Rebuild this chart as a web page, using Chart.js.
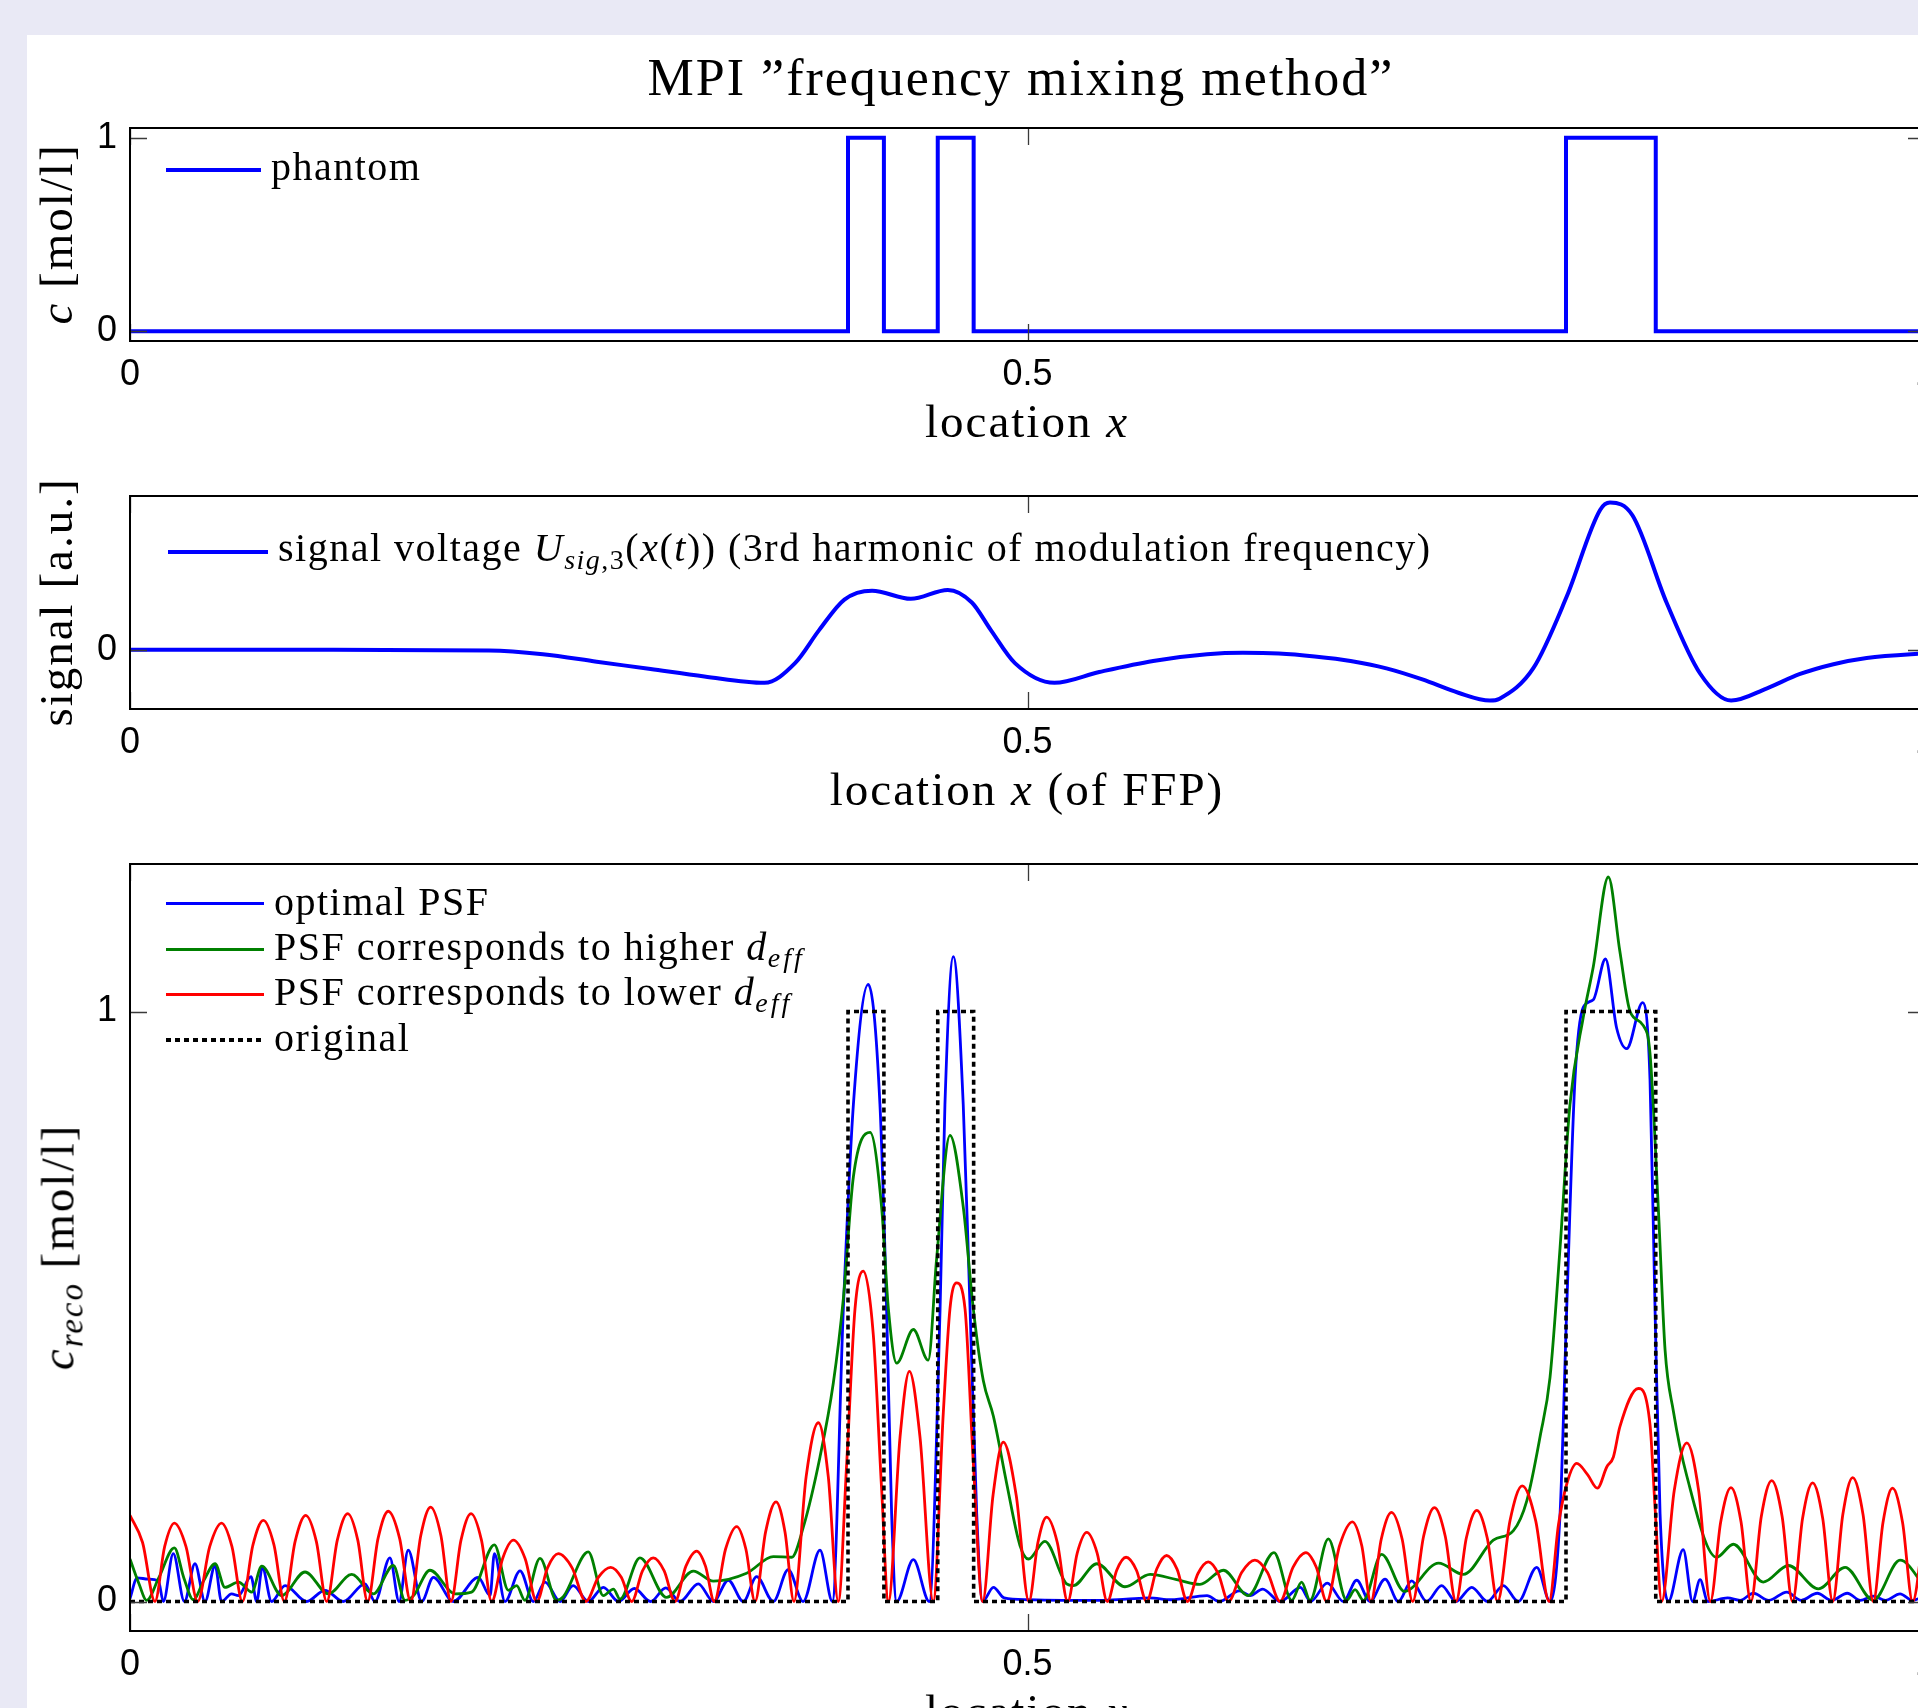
<!DOCTYPE html>
<html>
<head>
<meta charset="utf-8">
<script src="https://cdn.jsdelivr.net/npm/chart.js@4.4.1/dist/chart.umd.min.js"></script>
<style>
html, body { margin: 0; padding: 0; }
body { width: 1918px; height: 1708px; overflow: hidden; background: #e9e9f5; position: relative; }
#sheet { position: absolute; left: 27px; top: 35px; width: 1960px; height: 1700px; background: #fff; }
canvas { position: absolute; left: 27px; }
.t { position: absolute; white-space: nowrap; font-family: "Liberation Serif", "Times New Roman", serif; line-height: 1; color: #000; }
.c { transform: translateX(-50%); }
.rot { transform: translate(-50%, -50%) rotate(-90deg); }
.s { font-size: 0.7em; position: relative; top: 0.28em; }
.sw { position: absolute; }
.dot { background: repeating-linear-gradient(90deg, #000 0 5px, transparent 5px 9px); }
</style>
</head>
<body>
<div id="sheet"></div>

<canvas id="phantomChart" width="1973" height="300" style="top:100px"></canvas>
<canvas id="signalChart" width="1973" height="320" style="top:460px"></canvas>
<canvas id="recoChart" width="1973" height="878" style="top:830px"></canvas>

<div class="t c" style="left:1021px; top:52px; font-size:52px; letter-spacing:2px">MPI ”frequency mixing method”</div>

<!-- panel 1 -->
<div class="sw" style="left:166px; top:168px; width:95px; height:4px; background:#0000ff"></div>
<div class="t" style="left:271px; top:147px; font-size:40px; letter-spacing:1.5px">phantom</div>
<div class="t c" style="left:1027px; top:398px; font-size:47px; letter-spacing:2px">location <i>x</i></div>
<div class="t rot" style="left:56px; top:234px; font-size:47px; letter-spacing:2px"><i>c</i> [mol/l]</div>

<!-- panel 2 -->
<div class="sw" style="left:168px; top:550px; width:100px; height:4px; background:#0000ff"></div>
<div class="t" style="left:278px; top:528px; font-size:40px; letter-spacing:1.5px">signal voltage <i>U</i><span class="s"><i>sig</i>,3</span>(<i>x</i>(<i>t</i>)) (3rd harmonic of modulation frequency)</div>
<div class="t c" style="left:1027px; top:766px; font-size:47px; letter-spacing:2px">location <i>x</i> (of FFP)</div>
<div class="t rot" style="left:56px; top:602px; font-size:47px; letter-spacing:2px">signal [a.u.]</div>

<!-- panel 3 -->
<div class="sw" style="left:166px; top:901.5px; width:98px; height:3px; background:#0000ff"></div>
<div class="sw" style="left:166px; top:947.5px; width:98px; height:3px; background:#008000"></div>
<div class="sw" style="left:166px; top:992.5px; width:98px; height:3px; background:#ff0000"></div>
<div class="sw dot" style="left:166px; top:1038px; width:98px; height:3.5px"></div>
<div class="t" style="left:274px; top:881.5px; font-size:40px; letter-spacing:1.5px">optimal PSF</div>
<div class="t" style="left:274px; top:926.5px; font-size:40px; letter-spacing:1.5px">PSF corresponds to higher <i>d</i><span class="s" style="letter-spacing:3px"><i>eff</i></span></div>
<div class="t" style="left:274px; top:971.5px; font-size:40px; letter-spacing:1.5px">PSF corresponds to lower <i>d</i><span class="s" style="letter-spacing:3px"><i>eff</i></span></div>
<div class="t" style="left:274px; top:1017.5px; font-size:40px; letter-spacing:1.5px">original</div>
<div class="t c" style="left:1027px; top:1688px; font-size:47px; letter-spacing:2px">location <i>x</i></div>
<div class="t rot" style="left:58px; top:1247px; font-size:47px; letter-spacing:2px"><i>c</i><span class="s"><i>reco</i></span> [mol/l]</div>

<script>
// tick values
const xTicks = [0, 0.5, 1];
const phantomYTicks = [0, 1];
const signalYTicks = [0];
const recoYTicks = [0, 1];

// phantom concentration (stepped)
const phantom = [[0, 0], [0.4, 1], [0.42, 0], [0.45, 1], [0.47, 0], [0.8, 1], [0.85, 0], [1, 0]];

// 3rd harmonic signal voltage
const signal = [[0, 0], [0.1, 0], [0.2, -0.005], [0.23, -0.03], [0.26, -0.08], [0.29, -0.13], [0.32, -0.18],
  [0.3535, -0.223], [0.3705, -0.09], [0.384, 0.135], [0.398, 0.34], [0.4134, 0.4], [0.435, 0.345],
  [0.4556, 0.405], [0.469, 0.32], [0.4795, 0.135], [0.493, -0.09], [0.515, -0.223], [0.54, -0.15],
  [0.57, -0.075], [0.6, -0.03], [0.62, -0.02], [0.64, -0.025], [0.66, -0.045], [0.68, -0.075], [0.7, -0.125],
  [0.72, -0.2], [0.74, -0.29], [0.7576, -0.343], [0.763, -0.33], [0.7818, -0.124], [0.8004, 0.36],
  [0.819, 0.946], [0.8245, 0.996], [0.837, 0.91], [0.856, 0.32], [0.8747, -0.16], [0.892, -0.343],
  [0.912, -0.26], [0.93, -0.165], [0.949, -0.097], [0.9675, -0.055], [0.996, -0.027], [1, -0.025]];

// reconstruction, optimal PSF
const optimalPsf = [[0, 0.005], [0.004, 0.04], [0.01, 0.038], [0.0158, 0.035], [0.0186, 0], [0.0241, 0.081],
  [0.0303, 0], [0.0362, 0.064], [0.0418, 0], [0.0474, 0.061], [0.051, 0], [0.0566, 0.013], [0.0604, 0.01],
  [0.0674, 0.042], [0.0706, 0], [0.0737, 0.058], [0.0789, 0], [0.0864, 0.027], [0.0984, 0], [0.1086, 0.019],
  [0.1188, 0], [0.1309, 0.03], [0.1365, 0], [0.1448, 0.074], [0.1499, 0], [0.155, 0.087], [0.1625, 0],
  [0.169, 0.041], [0.1801, 0], [0.194, 0.041], [0.2006, 0.01], [0.203, 0.081], [0.2089, 0], [0.2173, 0.052],
  [0.2247, 0], [0.2312, 0.033], [0.2396, 0], [0.2469, 0.027], [0.2553, 0], [0.2637, 0.024], [0.2721, 0],
  [0.281, 0.022], [0.29, 0], [0.2985, 0.023], [0.3064, 0], [0.3166, 0.03], [0.325, 0], [0.3333, 0.036],
  [0.3417, 0], [0.3491, 0.042], [0.3584, 0], [0.3667, 0.054], [0.375, 0], [0.3844, 0.087], [0.3913, 0],
  [0.3974, 0.496], [0.403, 0.842], [0.4113, 1.046], [0.4178, 0.842], [0.4215, 0.496], [0.4243, 0.149],
  [0.4271, 0], [0.4364, 0.071], [0.4453, 0], [0.4513, 0.496], [0.454, 0.842], [0.4587, 1.093], [0.4642, 0.842],
  [0.468, 0.496], [0.4717, 0.149], [0.475, 0], [0.481, 0.024], [0.487, 0.006], [0.5, 0.003], [0.52, 0.002],
  [0.54, 0.002], [0.555, 0.004], [0.568, 0.006], [0.58, 0.003], [0.6, 0.01], [0.607, 0], [0.618, 0.018],
  [0.624, 0.01], [0.631, 0.021], [0.6407, 0], [0.652, 0.024], [0.6577, 0], [0.667, 0.031], [0.676, 0],
  [0.6834, 0.036], [0.6908, 0], [0.6992, 0.038], [0.7066, 0], [0.714, 0.035], [0.7224, 0], [0.7307, 0.027],
  [0.7387, 0], [0.7475, 0.024], [0.7562, 0], [0.7651, 0.027], [0.7734, 0], [0.7837, 0.058], [0.7911, 0],
  [0.7967, 0.149], [0.8004, 0.496], [0.805, 0.885], [0.8096, 1.007], [0.8152, 1.02], [0.822, 1.089],
  [0.8282, 0.972], [0.8338, 0.937], [0.8427, 1.015], [0.8468, 0.885], [0.8496, 0.496], [0.8524, 0.149],
  [0.857, 0], [0.8653, 0.088], [0.8705, 0], [0.8747, 0.037], [0.879, 0], [0.89, 0.006], [0.897, 0.002],
  [0.9044, 0.014], [0.913, 0.002], [0.923, 0.016], [0.931, 0.002], [0.94, 0.014], [0.948, 0.002],
  [0.9567, 0.014], [0.964, 0.002], [0.9712, 0.009], [0.978, 0.002], [0.9861, 0.013], [0.993, 0.002], [1, 0.01]];

// reconstruction, PSF of higher d_eff
const higherPsf = [[0, 0.072], [0.005, 0.03], [0.0093, 0.002], [0.016, 0.04], [0.0247, 0.091], [0.03, 0.04],
  [0.0353, 0.003], [0.041, 0.035], [0.0474, 0.064], [0.0529, 0.024], [0.0604, 0.033], [0.0678, 0.016],
  [0.0734, 0.06], [0.0845, 0.01], [0.0975, 0.05], [0.1105, 0.013], [0.1235, 0.046], [0.1356, 0.013],
  [0.1467, 0.061], [0.1532, 0.002], [0.158, 0.01], [0.1671, 0.053], [0.1811, 0.013], [0.1903, 0.016],
  [0.203, 0.096], [0.2108, 0.019], [0.2154, 0.027], [0.22, 0.002], [0.2284, 0.073], [0.2377, 0.002],
  [0.2414, 0.008], [0.2553, 0.084], [0.2637, 0.01], [0.2693, 0.021], [0.273, 0.004], [0.2841, 0.074],
  [0.2989, 0.007], [0.3138, 0.0515], [0.325, 0.0345], [0.3435, 0.048], [0.3584, 0.076], [0.3686, 0.075],
  [0.3751, 0.126], [0.3844, 0.245], [0.3918, 0.37], [0.3974, 0.513], [0.403, 0.72], [0.4123, 0.795],
  [0.4187, 0.669], [0.4225, 0.496], [0.4271, 0.404], [0.4364, 0.461], [0.4447, 0.409], [0.4494, 0.582],
  [0.4568, 0.79], [0.4642, 0.669], [0.4698, 0.496], [0.4754, 0.374], [0.481, 0.314], [0.4884, 0.2],
  [0.4958, 0.095], [0.5005, 0.072], [0.5097, 0.102], [0.5218, 0.03], [0.5255, 0.027], [0.5386, 0.064],
  [0.5543, 0.025], [0.5683, 0.046], [0.5831, 0.037], [0.5961, 0.029], [0.6091, 0.053], [0.623, 0.01],
  [0.6373, 0.083], [0.6472, 0.002], [0.6527, 0.033], [0.6574, 0.002], [0.6676, 0.106], [0.6778, 0.002],
  [0.6825, 0.02], [0.6871, 0.002], [0.6973, 0.08], [0.71, 0.017], [0.729, 0.065], [0.7428, 0.046],
  [0.7595, 0.104], [0.7707, 0.12], [0.7782, 0.171], [0.7856, 0.28], [0.7911, 0.38], [0.7967, 0.6],
  [0.8022, 0.842], [0.8096, 0.99], [0.8152, 1.076], [0.8236, 1.228], [0.83, 1.102], [0.8357, 1.0],
  [0.8431, 0.976], [0.8468, 0.929], [0.8514, 0.669], [0.8552, 0.426], [0.8598, 0.323], [0.8672, 0.214],
  [0.8839, 0.075], [0.8932, 0.097], [0.9099, 0.033], [0.9239, 0.061], [0.9406, 0.0215], [0.9555, 0.058],
  [0.9712, 0.002], [0.9861, 0.07], [1, 0.025]];

// reconstruction, PSF of lower d_eff
const lowerPsf = [[0, 0.146], [0.007, 0.1], [0.0139, 0],
  [0.0193, 0.093], [0.0247, 0.133], [0.0312, 0.093], [0.0377, 0],
  [0.0444, 0.093], [0.051, 0.133], [0.0568, 0.093], [0.0626, 0],
  [0.0685, 0.096], [0.0743, 0.1375], [0.0802, 0.096], [0.086, 0],
  [0.092, 0.102], [0.0979, 0.146], [0.1038, 0.102], [0.1096, 0],
  [0.1155, 0.104], [0.1213, 0.149], [0.1269, 0.104], [0.1324, 0],
  [0.1382, 0.107], [0.1439, 0.153], [0.1502, 0.107], [0.1564, 0],
  [0.162, 0.112], [0.1675, 0.16], [0.1732, 0.112], [0.1788, 0],
  [0.1844, 0.104], [0.19, 0.149], [0.1958, 0.104], [0.2015, 0],
  [0.2076, 0.073], [0.2136, 0.104], [0.2201, 0.073], [0.2266, 0],
  [0.2326, 0.057], [0.2386, 0.081], [0.2463, 0.057], [0.254, 0],
  [0.2609, 0.041], [0.2678, 0.058], [0.2737, 0.041], [0.2795, 0],
  [0.2855, 0.052], [0.2915, 0.074], [0.2976, 0.052], [0.3036, 0],
  [0.3097, 0.06], [0.3157, 0.0855], [0.3206, 0.06], [0.3255, 0],
  [0.3318, 0.089], [0.338, 0.127], [0.3431, 0.089], [0.3482, 0],
  [0.3541, 0.118], [0.3599, 0.169], [0.3649, 0.118], [0.3699, 0],
  [0.3767, 0.212], [0.3835, 0.303], [0.389, 0.212], [0.3946, 0],
  [0.3993, 0.236], [0.4039, 0.496], [0.4085, 0.56], [0.4141, 0.452], [0.4187, 0.192], [0.4225, 0],
  [0.429, 0.279], [0.4342, 0.39], [0.4401, 0.279], [0.4475, 0],
  [0.4531, 0.32], [0.4568, 0.496], [0.4605, 0.54], [0.4652, 0.496], [0.4698, 0.236], [0.475, 0],
  [0.4808, 0.18], [0.4865, 0.27], [0.4937, 0.18], [0.5008, 0],
  [0.5058, 0.1], [0.5107, 0.143], [0.5166, 0.1], [0.5224, 0],
  [0.5277, 0.082], [0.533, 0.117], [0.5388, 0.082], [0.5445, 0],
  [0.5497, 0.053], [0.5549, 0.075], [0.5607, 0.053], [0.5664, 0],
  [0.572, 0.055], [0.5775, 0.078], [0.5833, 0.055], [0.5891, 0],
  [0.5949, 0.047], [0.6007, 0.067], [0.6063, 0.047], [0.6119, 0],
  [0.6193, 0.049], [0.6267, 0.07], [0.6337, 0.049], [0.6407, 0],
  [0.6479, 0.058], [0.6551, 0.083], [0.6609, 0.058], [0.6667, 0],
  [0.6739, 0.095], [0.681, 0.135], [0.6862, 0.095], [0.6913, 0],
  [0.6971, 0.106], [0.7028, 0.151], [0.7087, 0.106], [0.7146, 0],
  [0.7207, 0.111], [0.7267, 0.159], [0.7327, 0.111], [0.7387, 0],
  [0.7445, 0.108], [0.7503, 0.1545], [0.7561, 0.108], [0.7619, 0],
  [0.7688, 0.137], [0.7756, 0.196], [0.7831, 0.137], [0.7906, 0],
  [0.7958, 0.13], [0.8005, 0.2], [0.806, 0.234], [0.812, 0.215], [0.8175, 0.192], [0.8227, 0.228],
  [0.8264, 0.245], [0.83, 0.296], [0.8403, 0.361], [0.8468, 0.3], [0.8496, 0.16], [0.8533, 0],
  [0.8603, 0.188], [0.8673, 0.269], [0.8739, 0.188], [0.8804, 0],
  [0.8862, 0.135], [0.8919, 0.193], [0.8975, 0.135], [0.903, 0],
  [0.9088, 0.144], [0.9146, 0.205], [0.9204, 0.144], [0.9262, 0],
  [0.9318, 0.141], [0.9374, 0.201], [0.943, 0.141], [0.9486, 0],
  [0.9542, 0.147], [0.9597, 0.21], [0.9655, 0.147], [0.9712, 0],
  [0.9766, 0.134], [0.9819, 0.192], [0.9875, 0.134], [0.9931, 0],
  [1, 0.14]];

const toPoints = pairs => pairs.map(p => ({ x: p[0], y: p[1] }));

const tickFont = { family: '"Liberation Sans", Arial, sans-serif', size: 36 };

// box around the axes plus inward tick marks on all four sides
const frameTicks = {
  id: 'frameTicks',
  afterDatasetsDraw(chart) {
    const ctx = chart.ctx;
    const a = chart.chartArea;
    const xs = chart.scales.x, ys = chart.scales.y;
    ctx.save();
    ctx.strokeStyle = '#3a3a3a';
    ctx.lineWidth = 1.3;
    ctx.beginPath();
    xs.ticks.forEach(t => {
      const px = Math.round(xs.getPixelForValue(t.value)) + 0.5;
      ctx.moveTo(px, a.bottom); ctx.lineTo(px, a.bottom - 17);
      ctx.moveTo(px, a.top); ctx.lineTo(px, a.top + 17);
    });
    ys.ticks.forEach(t => {
      const py = Math.round(ys.getPixelForValue(t.value)) + 0.5;
      ctx.moveTo(a.left, py); ctx.lineTo(a.left + 17, py);
      ctx.moveTo(a.right, py); ctx.lineTo(a.right - 17, py);
    });
    ctx.stroke();
    ctx.strokeStyle = '#000';
    ctx.lineWidth = 2;
    ctx.strokeRect(a.left, a.top, a.right - a.left, a.bottom - a.top);
    ctx.restore();
  }
};

function makePanel(id, datasets, yMin, yMax, yTicks, padding) {
  return new Chart(document.getElementById(id), {
    type: 'line',
    data: { datasets: datasets },
    options: {
      responsive: false,
      animation: false,
      events: [],
      layout: { padding: padding },
      elements: { point: { radius: 0 } },
      plugins: {
        legend: { display: false },
        tooltip: { enabled: false },
        title: { display: false }
      },
      scales: {
        x: {
          type: 'linear', min: 0, max: 1,
          grid: { display: false, drawTicks: false },
          border: { display: false },
          afterBuildTicks: s => { s.ticks = xTicks.map(v => ({ value: v })); },
          afterFit: s => { s.height = 50; s.paddingLeft = 0; s.paddingRight = 0; },
          ticks: { autoSkip: false, maxRotation: 0, padding: 12, color: '#000', font: tickFont,
                   callback: v => String(v) }
        },
        y: {
          type: 'linear', min: yMin, max: yMax,
          grid: { display: false, drawTicks: false },
          border: { display: false },
          afterBuildTicks: s => { s.ticks = yTicks.map(v => ({ value: v })); },
          afterFit: s => { s.width = 103; s.paddingTop = 0; s.paddingBottom = 0; },
          ticks: { autoSkip: false, padding: 13, color: '#000', font: tickFont,
                   callback: v => String(v) }
        }
      }
    },
    plugins: [frameTicks]
  });
}

makePanel('phantomChart', [{
  label: 'phantom',
  data: toPoints(phantom),
  stepped: 'before',
  borderColor: '#0000ff',
  borderWidth: 4,
  fill: false
}], -0.05, 1.05, phantomYTicks, { left: 0, top: 28, right: 75, bottom: 9 });

makePanel('signalChart', [{
  label: 'signal voltage',
  data: toPoints(signal),
  cubicInterpolationMode: 'monotone',
  borderColor: '#0000ff',
  borderWidth: 4,
  fill: false
}], -0.4, 1.04, signalYTicks, { left: 0, top: 36, right: 75, bottom: 21 });

makePanel('recoChart', [
  { label: 'optimal PSF', data: toPoints(optimalPsf), cubicInterpolationMode: 'monotone',
    borderColor: '#0000ff', borderWidth: 2.8, fill: false, order: 3 },
  { label: 'PSF corresponds to higher d_eff', data: toPoints(higherPsf), cubicInterpolationMode: 'monotone',
    borderColor: '#008000', borderWidth: 2.8, fill: false, order: 2 },
  { label: 'PSF corresponds to lower d_eff', data: toPoints(lowerPsf), cubicInterpolationMode: 'monotone',
    borderColor: '#ff0000', borderWidth: 2.8, fill: false, order: 1 },
  { label: 'original', data: toPoints(phantom), stepped: 'before', borderDash: [5, 4],
    borderColor: '#000000', borderWidth: 3.6, fill: false, order: 0 }
], -0.05, 1.25, recoYTicks, { left: 0, top: 34, right: 75, bottom: 27 });
</script>
</body>
</html>
